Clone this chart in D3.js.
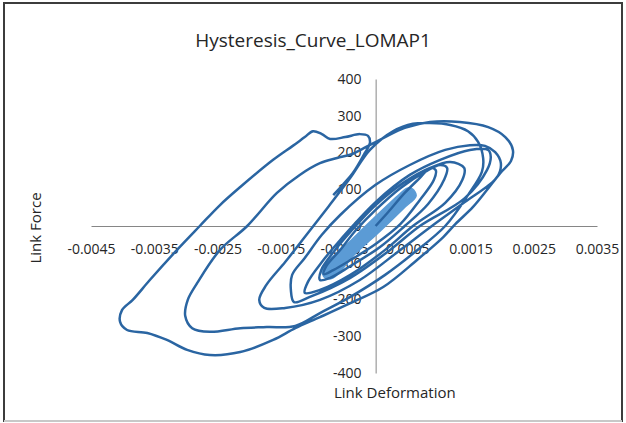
<!DOCTYPE html>
<html>
<head>
<meta charset="utf-8">
<script src="https://cdn.jsdelivr.net/npm/d3@7"></script>
<style>
    body { margin: 0; background: #fff; }
    text { font-family: "Open Sans", sans-serif; fill: #262626; }
</style>
</head>
<body>
<div id="chart"></div>
<script>
// axis ticks
const xTicks = [-0.0045, -0.0035, -0.0025, -0.0015, -0.0005, 0.0005, 0.0015, 0.0025, 0.0035];
const yTicks = [-400, -300, -200, -100, 0, 100, 200, 300, 400];

// [deformation, force], in the order the test ran
const cycle1 = [[0, 0], [0.00020, 38], [0.00046, 90], [0.00070, 131], [0.00086, 158], [0.00095, 152],
    [0.00092, 125], [0.00070, 71], [0.00039, 5], [0, -49], [-0.00040, -93], [-0.00067, -120], [-0.00082, -131]];
const cycle2 = [[-0.00078, -109], [-0.00056, -65], [-0.00031, -11], [0, 44], [0.00039, 103], [0.00078, 147],
    [0.00102, 166], [0.00113, 158], [0.00108, 125], [0.00083, 60], [0.00046, 0], [0.00007, -57],
    [-0.00040, -109], [-0.00072, -141], [-0.00088, -147]];
const cycle3 = [[-0.00086, -120], [-0.00064, -65], [-0.00040, -16], [0, 57], [0.00046, 120], [0.00086, 158],
    [0.00118, 174], [0.00140, 158], [0.00137, 125], [0.00110, 63], [0.00059, 0], [0.00015, -65],
    [-0.00040, -133], [-0.00088, -174], [-0.00112, -182]];
const cycle4 = [[-0.00107, -152], [-0.00085, -98], [-0.00056, -38], [0, 65], [0.00054, 139], [0.00102, 180],
    [0.00149, 207], [0.00178, 207], [0.00182, 188], [0.00176, 152], [0.00141, 76], [0.00070, 0],
    [0.00023, -65], [-0.00040, -141], [-0.00104, -193], [-0.00129, -207]];
const cycle5 = [[-0.00134, -174], [-0.00132, -133], [-0.00112, -87], [-0.00085, -24], [-0.00056, 30], [0, 112],
    [0.00054, 166], [0.00110, 207], [0.00149, 220], [0.00173, 218], [0.00189, 201], [0.00198, 171],
    [0.00192, 133], [0.00141, 65], [0.00089, 0], [0.00039, -65], [-0.00025, -147], [-0.00088, -201],
    [-0.00143, -223], [-0.00176, -223]];
const cycle6 = [[-0.00184, -201], [-0.00173, -161], [-0.00143, -98], [-0.00112, -30], [-0.00075, 52],
    [-0.00040, 131], [-0.00009, 207], [0.00028, 258], [0.00059, 278], [0.00086, 280], [0.00118, 275],
    [0.00146, 258], [0.00162, 229], [0.00170, 185], [0.00168, 147], [0.00146, 84], [0.00110, 0],
    [0.00062, -71], [0.00015, -133], [-0.00040, -193], [-0.00088, -237], [-0.00127, -272],
    [-0.00172, -275], [-0.00214, -278], [-0.00262, -288], [-0.00290, -278], [-0.00301, -245]];
const cycle7 = [[-0.00297, -201], [-0.00282, -155], [-0.00246, -65], [-0.00203, 0], [-0.00156, 90],
    [-0.00120, 139], [-0.00088, 171], [-0.00061, 185], [-0.00037, 196], [-0.00015, 215], [0.00012, 239],
    [0.00046, 267], [0.00086, 283], [0.00133, 283], [0.00178, 269], [0.00205, 242], [0.00217, 207],
    [0.00214, 177], [0.00197, 144], [0.00176, 98], [0.00154, 52], [0.00126, 5], [0.00107, -30],
    [0.00065, -93], [0.00012, -166], [-0.00040, -210], [-0.00088, -248], [-0.00127, -278],
    [-0.00162, -310], [-0.00214, -343], [-0.00262, -351], [-0.00298, -337], [-0.00330, -310],
    [-0.00361, -291], [-0.00393, -283], [-0.00404, -261]];
const cycle8 = [[-0.00401, -229], [-0.00384, -201], [-0.00357, -147], [-0.00314, -65], [-0.00278, 0],
    [-0.00246, 57], [-0.00214, 106], [-0.00162, 180], [-0.00131, 218], [-0.00112, 242], [-0.00099, 258],
    [-0.00085, 250], [-0.00072, 237], [-0.00048, 242], [-0.00025, 250], [-0.00012, 245], [-0.00009, 226],
    [-0.00017, 199], [-0.00036, 144], [-0.00052, 112], [-0.00067, 84]];
// the many small early cycles that blur into one band
const coreBand = [[-0.00085, -114], [-0.00053, -63], [-0.00006, 16], [0.00035, 82], [0.00050, 103],
    [0.00058, 101], [0.00064, 82], [0.00045, 49], [0.00007, -14], [-0.00034, -79], [-0.00067, -141],
    [-0.00080, -141]];

class HysteresisChart {
    constructor(series, core) {
        this.series = series;
        this.core = core;
        this.width = 626;
        this.height = 423;
        this.plot = {left: 91, right: 597, top: 79, bottom: 373};
        this.draw();
    }

    draw() {
        let svg = d3.select('#chart').append('svg')
            .attr('width', this.width)
            .attr('height', this.height);

        // frame
        svg.append('rect')
            .attr('x', 4).attr('y', 3)
            .attr('width', 618).attr('height', 418)
            .attr('fill', 'none')
            .attr('stroke', '#3c3c3c')
            .attr('stroke-width', 2);
        svg.append('line')
            .attr('x1', 4).attr('x2', 622)
            .attr('y1', 421).attr('y2', 421)
            .attr('stroke', '#c8c8c8')
            .attr('stroke-width', 2);

        const x = d3.scaleLinear().domain([-0.0045, 0.0035]).range([this.plot.left, this.plot.right]);
        const y = d3.scaleLinear().domain([-400, 400]).range([this.plot.bottom, this.plot.top]);

        // axes cross at the origin, plain hyphen for negatives like Excel
        let xAxis = svg.append('g')
            .attr('transform', `translate(0,${y(0)})`)
            .call(d3.axisBottom(x).tickValues(xTicks).tickSize(0).tickPadding(18).tickFormat(d => d.toFixed(4)));
        xAxis.select('.domain').attr('stroke', '#868686');
        xAxis.selectAll('text').style('font-size', '14px').attr('fill', '#262626');

        let yAxis = svg.append('g')
            .attr('transform', `translate(${x(0)},0)`)
            .call(d3.axisLeft(y).tickValues(yTicks).tickSize(0).tickPadding(14).tickFormat(d => String(d)));
        yAxis.select('.domain').attr('stroke', '#868686');
        yAxis.selectAll('text').style('font-size', '14px').attr('fill', '#262626');

        const line = d3.line()
            .x(d => x(d[0]))
            .y(d => y(d[1]));

        svg.append('path')
            .datum(this.core)
            .attr('d', line.curve(d3.curveCatmullRomClosed.alpha(0.5)))
            .attr('fill', '#5b9bd5')
            .attr('stroke', '#5b9bd5')
            .attr('stroke-width', 1.5);

        line.curve(d3.curveCatmullRom.alpha(0.5));
        svg.append('path')
            .datum(this.series)
            .attr('d', line)
            .attr('fill', 'none')
            .attr('stroke', '#2a65a2')
            .attr('stroke-width', 2.5)
            .attr('stroke-linejoin', 'round');

        // titles
        svg.append('text')
            .attr('x', 313).attr('y', 47)
            .attr('text-anchor', 'middle')
            .style('font-size', '19px')
            .text('Hysteresis_Curve_LOMAP1');
        svg.append('text')
            .attr('x', 334).attr('y', 398)
            .style('font-size', '15px')
            .text('Link Deformation');
        svg.append('text')
            .attr('transform', 'translate(41,228) rotate(-90)')
            .attr('text-anchor', 'middle')
            .style('font-size', '15px')
            .text('Link Force');
    }
}

const allPoints = [].concat(cycle1, cycle2, cycle3, cycle4, cycle5, cycle6, cycle7, cycle8);
new HysteresisChart(allPoints, coreBand);
</script>
</body>
</html>
